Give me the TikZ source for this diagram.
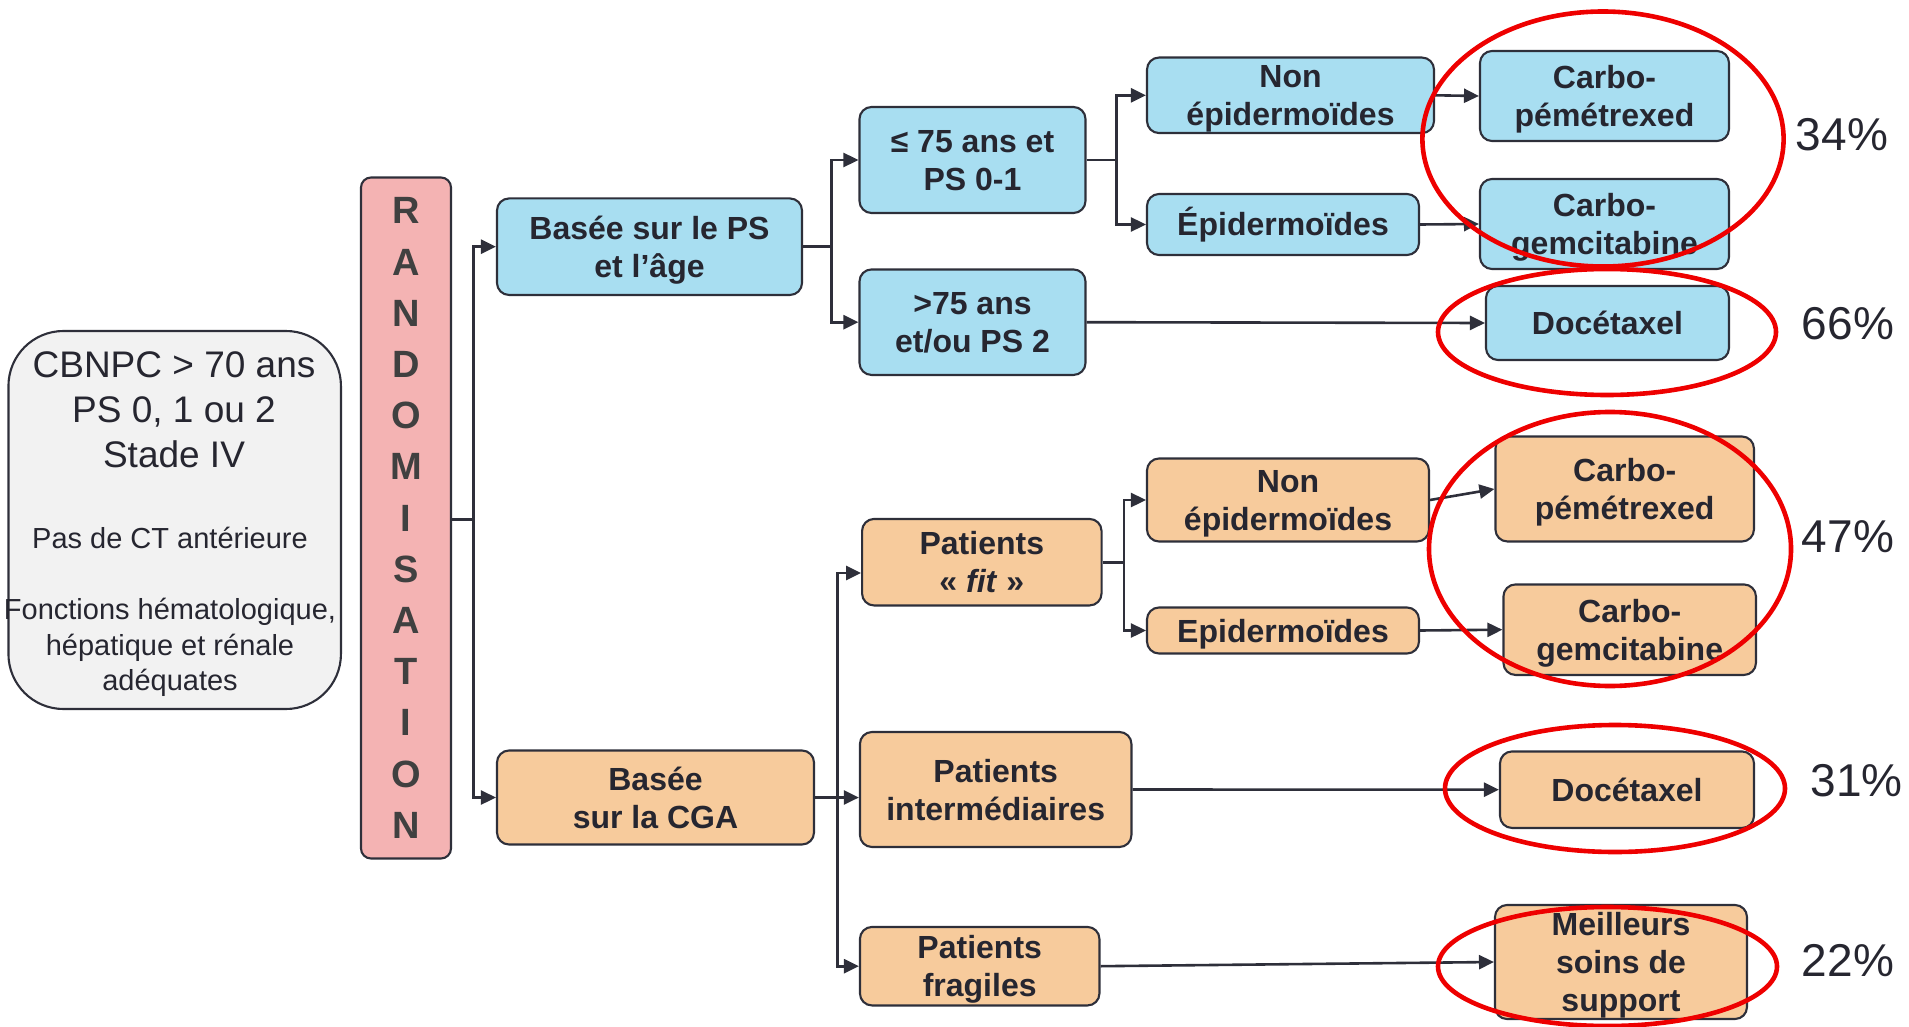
\documentclass[tikz,border=0pt]{standalone}
\usepackage{fontspec}
\setmainfont{Liberation Sans}
\usetikzlibrary{arrows.meta}
\definecolor{lineC}{RGB}{46,47,58}
\definecolor{txtC}{RGB}{38,38,48}
\definecolor{randC}{RGB}{64,64,64}
\definecolor{blueF}{RGB}{168,222,241}
\definecolor{orangeF}{RGB}{247,203,156}
\definecolor{pinkF}{RGB}{244,179,179}
\definecolor{grayF}{RGB}{242,242,242}
\definecolor{ringC}{RGB}{238,0,0}

\begin{document}
\begin{tikzpicture}[x=1pt, y=-1pt]
	\tikzstyle{box} = [rectangle, rounded corners=12pt, draw=lineC, line width=2.1pt, inner sep=0pt, align=center, text=txtC, text depth=0pt, font=\bfseries\fontsize{32}{38}\selectfont]
	\tikzstyle{bluebox} = [box, fill=blueF]
	\tikzstyle{orangebox} = [box, fill=orangeF]
	\tikzstyle{arr} = [-{Triangle[length=15pt,width=14pt]}, draw=lineC, line width=2.6pt]
	\tikzstyle{ring} = [draw=ringC, line width=4.6pt]
	\tikzstyle{pct} = [text=txtC, font=\fontsize{46}{50}\selectfont]
	\useasboundingbox (0,0) rectangle (1909,1027);
	\node[rectangle, rounded corners=55pt, draw=lineC, line width=2.1pt, fill=grayF, minimum width=332.5pt, minimum height=378pt] (cbnpc) at (174.7,520) {};
	\node[align=center, text=txtC, font=\fontsize{37}{45}\selectfont] (cbnpctop) at (174,410) {CBNPC > 70 ans\\PS 0, 1 ou 2\\Stade IV};
	\node[align=center, text=txtC, font=\fontsize{29}{35.3}\selectfont] (cbnpcbot) at (170,612) {Pas de CT antérieure\\[35.5pt]Fonctions hématologique,\\hépatique et rénale\\adéquates};
	\node[rectangle, rounded corners=10pt, draw=lineC, line width=2.1pt, fill=pinkF, minimum width=90pt, minimum height=681pt, inner sep=0pt, align=center, text=randC, font=\bfseries\fontsize{38}{51.2}\selectfont] (rand) at (406,518) {R\\A\\N\\D\\O\\M\\I\\S\\A\\T\\I\\O\\N};
	\node[bluebox, minimum width=305pt, minimum height=96.5pt] (ps) at (649.5,246.7) {Basée sur le PS\\et l’âge};
	\node[bluebox, minimum width=226pt, minimum height=106pt] (le75) at (972.5,160) {≤ 75 ans et\\PS 0-1};
	\node[bluebox, minimum width=226pt, minimum height=105.5pt] (gt75) at (972.5,322.2) {>75 ans\\et/ou PS 2};
	\node[bluebox, minimum width=287pt, minimum height=75.5pt] (nonepiA) at (1290.5,95.3) {Non\\épidermoïdes};
	\node[bluebox, minimum width=272pt, minimum height=61pt, text depth=6pt] (epiA) at (1283,224.5) {Épidermoïdes};
	\node[bluebox, minimum width=249pt, minimum height=90pt] (carbopA) at (1604.5,96) {Carbo-\\pémétrexed};
	\node[bluebox, minimum width=249pt, minimum height=90pt] (carbogA) at (1604.5,224) {Carbo-\\gemcitabine};
	\node[bluebox, minimum width=243pt, minimum height=74pt] (doceA) at (1607.5,323) {Docétaxel};
	\node[orangebox, minimum width=317pt, minimum height=94pt] (cga) at (655.5,797.5) {Basée\\sur la CGA};
	\node[orangebox, minimum width=239.5pt, minimum height=86.5pt] (fit) at (981.8,562.2) {Patients\\« \textit{fit} »};
	\node[orangebox, minimum width=271.5pt, minimum height=115pt] (inter) at (995.7,789.5) {Patients\\intermédiaires};
	\node[orangebox, minimum width=239.5pt, minimum height=78.5pt] (frag) at (979.7,966.2) {Patients\\fragiles};
	\node[orangebox, minimum width=282pt, minimum height=83pt] (nonepiB) at (1288,500) {Non\\épidermoïdes};
	\node[orangebox, minimum width=272pt, minimum height=46pt] (epiB) at (1283,630.5) {Epidermoïdes};
	\node[orangebox, minimum width=258.5pt, minimum height=105pt] (carbopB) at (1624.7,489) {Carbo-\\pémétrexed};
	\node[orangebox, minimum width=252.5pt, minimum height=90.5pt] (carbogB) at (1629.7,629.7) {Carbo-\\gemcitabine};
	\node[orangebox, minimum width=254pt, minimum height=76.5pt] (doceB) at (1627,789.7) {Docétaxel};
	\node[orangebox, minimum width=252pt, minimum height=114pt] (bsc) at (1621,962) {Meilleurs\\soins de\\support};
	\node[pct] (p34) at (1842,135) {34\%};
	\node[pct] (p66) at (1848,323.5) {66\%};
	\node[pct] (p47) at (1848,537) {47\%};
	\node[pct] (p31) at (1856.5,781) {31\%};
	\node[pct] (p22) at (1848,961) {22\%};
	\coordinate (jr) at (473.6,519.5);
	\coordinate (j1) at (831.5,246.7);
	\coordinate (j2) at (1116.5,160);
	\coordinate (j3) at (837.5,797.5);
	\coordinate (j4) at (1124,562.2);
	\draw[arr] (rand.east |- jr) -- (jr) |- (ps.west);
	\draw[arr] (jr) |- (cga.west);
	\draw[arr] (ps.east) -- (j1) |- (le75.west);
	\draw[arr] (j1) |- (gt75.west);
	\draw[arr] (le75.east) -- (j2) |- (nonepiA.west);
	\draw[arr] (j2) |- (epiA.west);
	\draw[arr] (nonepiA.east) -- (carbopA.west);
	\draw[arr] (epiA.east) -- (carbogA.west);
	\draw[arr] (gt75.east) -- (doceA.west);
	\draw[arr] (cga.east) -- (j3) |- ([yshift=-10.8pt]fit.west);
	\draw[arr] (j3) -- (j3 -| inter.west);
	\draw[arr] (j3) |- (frag.west);
	\draw[arr] (fit.east) -- (j4) |- (nonepiB.west);
	\draw[arr] (j4) |- (epiB.west);
	\draw[arr] (nonepiB.east) -- (carbopB.west);
	\draw[arr] (epiB.east) -- (carbogB.west);
	\draw[arr] (inter.east) -- (doceB.west);
	\draw[arr] (frag.east) -- (bsc.west);
	\draw[ring] (1603,139) ellipse [x radius=180.6pt, y radius=127.5pt];
	\draw[ring] (1607,332) ellipse [x radius=169pt, y radius=63pt];
	\draw[ring] (1610,549) ellipse [x radius=181pt, y radius=137pt];
	\draw[ring] (1615,788.5) ellipse [x radius=170pt, y radius=63.5pt];
	\draw[ring] (1607.5,966.5) ellipse [x radius=169.5pt, y radius=59.5pt];
\end{tikzpicture}
\end{document}
